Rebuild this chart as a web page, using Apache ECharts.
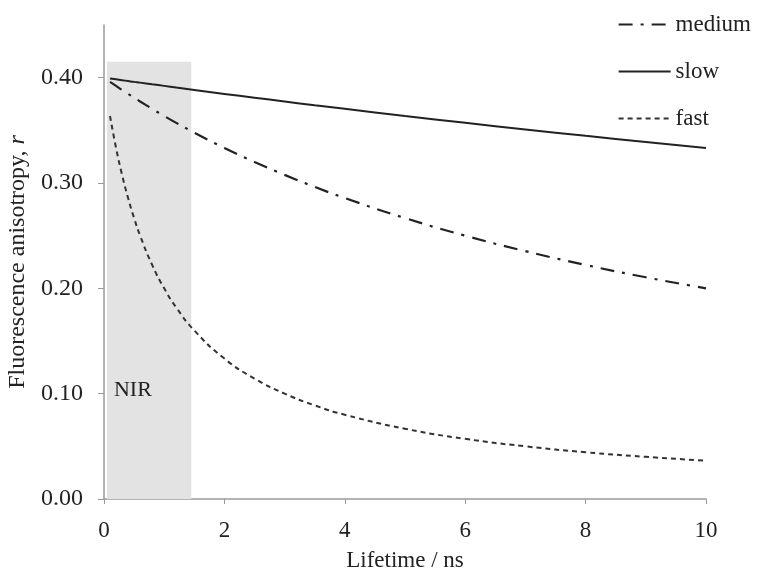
<!DOCTYPE html>
<html>
<head>
<meta charset="utf-8">
<script src="https://cdn.jsdelivr.net/npm/echarts@6/dist/echarts.min.js"></script>
<style>
  html, body { margin: 0; padding: 0; background: #fff; }
  #chart { width: 757px; height: 574px; }
</style>
</head>
<body>
<div id="chart"></div>
<script>
// lifetime values (ns) the curves were read at
var lifetime = [0.1, 0.2, 0.3, 0.4, 0.5, 0.6, 0.8, 1.0, 1.2, 1.5, 2, 2.5, 3, 3.5, 4, 5, 6, 7, 8, 9, 10];
var medium = [0.3960, 0.3922, 0.3883, 0.3846, 0.3810, 0.3774, 0.3704, 0.3636, 0.3571, 0.3478, 0.3333, 0.3200, 0.3077, 0.2963, 0.2857, 0.2667, 0.2500, 0.2353, 0.2222, 0.2105, 0.2000];
var slow = [0.3992, 0.3984, 0.3976, 0.3968, 0.3960, 0.3953, 0.3937, 0.3922, 0.3906, 0.3883, 0.3846, 0.3810, 0.3774, 0.3738, 0.3704, 0.3636, 0.3571, 0.3509, 0.3448, 0.3390, 0.3333];
var fast = [0.3636, 0.3333, 0.3077, 0.2857, 0.2667, 0.2500, 0.2222, 0.2000, 0.1818, 0.1600, 0.1333, 0.1143, 0.1000, 0.0889, 0.0800, 0.0667, 0.0571, 0.0500, 0.0444, 0.0400, 0.0364];
var xTicks = [0, 2, 4, 6, 8, 10];
var yTicks = [0, 0.1, 0.2, 0.3, 0.4];
// shaded NIR window
var nirBand = { from: 0.05, to: 1.45, top: 0.415 };
var nirLabel = [0.48, 0.103];

function pairs(ys) {
  return lifetime.map(function (t, i) { return [t, ys[i]]; });
}

var chart = echarts.init(document.getElementById("chart"));
var font = "Liberation Serif";
var axisGrey = "#9a9a9a";
var ink = "#222";

var option = {
  animation: false,
  textStyle: { fontFamily: font },
  grid: { left: 104, right: 51, top: 25, bottom: 75, outerBoundsMode: "none" },
  legend: {
    orient: "vertical",
    right: 1,
    top: 8,
    itemWidth: 52,
    itemHeight: 14,
    itemGap: 24,
    data: ["medium", "slow", "fast"],
    itemStyle: { opacity: 0 },
    textStyle: { fontFamily: font, fontSize: 23, color: ink }
  },
  xAxis: {
    type: "value",
    min: 0,
    max: 10,
    interval: 2,
    name: "Lifetime / ns",
    nameLocation: "middle",
    nameGap: 50,
    nameMoveOverlap: false,
    nameTextStyle: { fontFamily: font, fontSize: 23, color: ink },
    axisLine: { lineStyle: { color: axisGrey, width: 1.5 } },
    axisTick: { show: true, length: 5, lineStyle: { color: axisGrey }, customValues: xTicks },
    axisLabel: { fontSize: 23, color: ink, margin: 20, customValues: xTicks },
    splitLine: { show: false }
  },
  yAxis: {
    type: "value",
    min: 0,
    max: 0.45,
    interval: 0.1,
    name: "Fluorescence anisotropy, {i|r}",
    nameLocation: "middle",
    nameGap: 74,
    nameMoveOverlap: false,
    nameTextStyle: {
      fontFamily: font, fontSize: 24, color: ink,
      rich: { i: { fontFamily: font, fontSize: 24, fontStyle: "italic", color: ink } }
    },
    axisLine: { show: true, lineStyle: { color: axisGrey, width: 1.5 } },
    axisTick: { show: true, length: 6, lineStyle: { color: axisGrey }, customValues: yTicks },
    axisLabel: {
      fontSize: 24, color: ink, margin: 21, customValues: yTicks,
      formatter: function (v) { return v.toFixed(2); }
    },
    splitLine: { show: false }
  },
  series: [
    {
      name: "medium",
      type: "line",
      smooth: true,
      symbol: "none",
      data: pairs(medium),
      lineStyle: { color: ink, width: 2.2, type: [14, 8, 3, 8] },
      itemStyle: { color: ink },
      markArea: {
        silent: true,
        itemStyle: { color: "#e3e3e3" },
        data: [[{ xAxis: nirBand.from, yAxis: 0 }, { xAxis: nirBand.to, yAxis: nirBand.top }]]
      },
      markPoint: {
        symbol: "circle",
        symbolSize: 0,
        data: [{ coord: nirLabel, value: "NIR" }],
        label: { show: true, position: "inside", formatter: "NIR", fontFamily: font, fontSize: 22, color: ink }
      }
    },
    {
      name: "slow",
      type: "line",
      smooth: true,
      symbol: "none",
      data: pairs(slow),
      lineStyle: { color: ink, width: 2 },
      itemStyle: { color: ink }
    },
    {
      name: "fast",
      type: "line",
      smooth: true,
      symbol: "none",
      data: pairs(fast),
      lineStyle: { color: "#333", width: 2, type: [5, 4] },
      itemStyle: { color: "#333" }
    }
  ]
};

chart.setOption(option);
</script>
</body>
</html>
